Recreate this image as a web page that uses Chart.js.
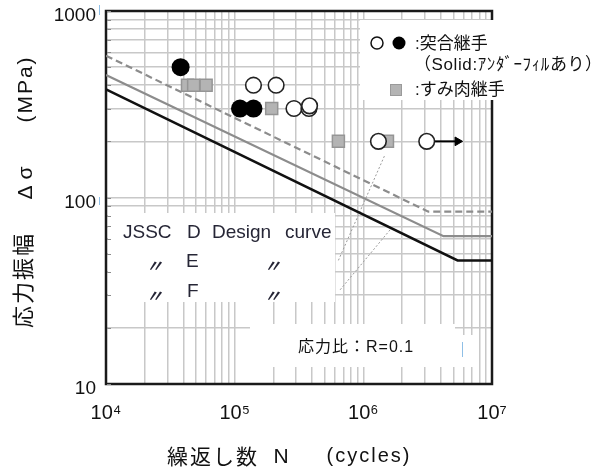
<!DOCTYPE html>
<html>
<head>
<meta charset="utf-8">
<script src="https://cdn.jsdelivr.net/npm/chart.js@4.4.1/dist/chart.umd.min.js"></script>
<style>
  html, body { margin: 0; padding: 0; background: #fff; }
</style>
</head>
<body>
<canvas id="sn" width="598" height="470"></canvas>
<script>
// Fatigue test results: stress range Δσ (MPa) against cycles to failure N
const buttOpenN  = [1.40e5, 2.10e5, 2.89e5, 3.78e5, 3.82e5, 1.31e6, 3.11e6];
const buttOpenS  = [400, 400, 300, 300, 310, 200, 200];
const buttSolidN = [3.8e4, 1.10e5, 1.40e5];
const buttSolidS = [500, 300, 300];
const filletN    = [4.3e4, 4.8e4, 6.0e4, 1.94e5, 6.4e5, 1.54e6];
const filletS    = [400, 400, 400, 300, 200, 200];
// run-out (not failed) specimen arrow
const runoutN    = [3.11e6, 5.4e6];
const runoutS    = [200, 200];

// JSSC design curves D, E, F (slope 1/3 with cut-off)
const curveD_N = [1e4, 3.2e6, 1e7], curveD_S = [576, 84, 84];
const curveE_N = [1e4, 4.2e6, 1e7], curveE_S = [454, 62, 62];
const curveF_N = [1e4, 5.4e6, 1e7], curveF_S = [380, 46, 46];

// faint dotted guide lines
const guideA_N = [6.4e5, 1.47e6], guideA_S = [46, 169];
const guideB_N = [6.6e5, 1.67e6], guideB_S = [32, 69];

// axis ticks
const xTickValues = [1e4, 1e5, 1e6, 1e7];
const xTickLabels = ['10⁴', '10⁵', '10⁶', '10⁷'];
const yTickValues = [10, 100, 1000];
const yTickLabels = ['10', '100', '1000'];

const pts = (xs, ys) => xs.map((x, i) => ({ x, y: ys[i] }));

function logGrid(min, max) {
  const out = [];
  for (let e = Math.round(Math.log10(min)); e <= Math.round(Math.log10(max)); e++) {
    for (let m = 1; m <= 9; m++) {
      const v = m * Math.pow(10, e);
      if (v >= min * 0.999 && v <= max * 1.001) out.push(v);
    }
  }
  return out;
}
function labelFrom(values, labels, v) {
  const i = values.findIndex(t => Math.abs(Math.log10(t) - Math.log10(v)) < 1e-6);
  return i >= 0 ? labels[i] : '';
}

const LATIN = "'Liberation Sans', Arial, 'Noto Sans CJK JP', sans-serif";
const JP = "'Liberation Sans', 'Noto Sans CJK JP', sans-serif";

const decor = {
  id: 'decor',
  beforeDatasetsDraw(chart) {
    const ctx = chart.ctx, a = chart.chartArea;
    ctx.save();
    // plot frame
    ctx.strokeStyle = '#1a1a1a';
    ctx.lineWidth = 2.5;
    ctx.strokeRect(a.left, a.top, a.right - a.left, a.bottom - a.top);
    // white label panels
    ctx.fillStyle = '#ffffff';
    ctx.fillRect(360, 20, 238, 80);
    ctx.fillRect(108, 213, 227, 89);
    ctx.fillRect(250, 324, 205, 43);
    ctx.fillRect(455, 335, 20, 32);
    // short inner ticks on the left axis
    const ys = chart.scales.y;
    ctx.strokeStyle = '#8a8a8a';
    ctx.lineWidth = 1;
    logGrid(10, 1000).forEach(v => {
      const py = Math.round(ys.getPixelForValue(v)) + 0.5;
      ctx.beginPath(); ctx.moveTo(a.left + 1, py); ctx.lineTo(a.left + 5, py); ctx.stroke();
    });
    ctx.restore();
  },
  afterDraw(chart) {
    const ctx = chart.ctx;
    ctx.save();
    ctx.fillStyle = '#111';
    ctx.textBaseline = 'alphabetic';

    // y axis title (rotated)
    const vtext = (txt, x, y, font, spacing) => {
      ctx.save();
      ctx.translate(x, y);
      ctx.rotate(-Math.PI / 2);
      ctx.font = font;
      ctx.letterSpacing = spacing || '0px';
      ctx.textAlign = 'center';
      ctx.fillText(txt, 0, 0);
      ctx.restore();
    };
    vtext('応力振幅', 31, 280, "22px 'Noto Sans CJK JP', sans-serif", '2px');
    vtext('Δ σ', 32, 183, '21px ' + LATIN);
    vtext('(MPa)', 32, 89, '21px ' + LATIN, '2px');

    // x axis title
    ctx.textAlign = 'center';
    ctx.font = "21px 'Noto Sans CJK JP', sans-serif";
    ctx.letterSpacing = '2px';
    ctx.fillText('繰返し数', 213, 464);
    ctx.letterSpacing = '0px';
    ctx.font = '21px ' + LATIN;
    ctx.fillText('N', 281, 463);
    ctx.font = '20px ' + LATIN;
    ctx.letterSpacing = '2px';
    ctx.fillText('(cycles)', 369, 462);
    ctx.letterSpacing = '0px';

    // symbol legend
    ctx.textAlign = 'left';
    ctx.lineWidth = 1.5;
    ctx.strokeStyle = '#111';
    ctx.fillStyle = '#fff';
    ctx.beginPath(); ctx.arc(377, 43, 6, 0, Math.PI * 2); ctx.fill(); ctx.stroke();
    ctx.fillStyle = '#000';
    ctx.beginPath(); ctx.arc(399, 43, 6.5, 0, Math.PI * 2); ctx.fill();
    ctx.fillStyle = '#b4b4b4';
    ctx.fillRect(390, 84, 12, 12);
    ctx.strokeStyle = '#9a9a9a';
    ctx.lineWidth = 1;
    ctx.strokeRect(390.5, 84.5, 11, 11);

    ctx.fillStyle = '#111';
    ctx.font = '17px ' + JP;
    ctx.fillText(':突合継手', 415, 49);
    ctx.font = '17px ' + JP;
    ctx.letterSpacing = '0.6px';
    ctx.fillText('（Solid:ｱﾝﾀﾞｰﾌｨﾙあり）', 414, 70);
    ctx.letterSpacing = '0px';
    ctx.font = '17px ' + JP;
    ctx.fillText(':すみ肉継手', 415, 95);

    // design curve labels
    ctx.fillStyle = '#262636';
    ctx.font = '19px ' + LATIN;
    ctx.fillText('JSSC', 123, 238);
    ctx.fillText('D', 187, 238);
    ctx.fillText('Design', 212, 238);
    ctx.fillText('curve', 285, 238);
    ctx.fillText('E', 186, 267);
    ctx.fillText('F', 187, 297);
    ctx.font = "italic bold 17px 'Noto Sans CJK JP', sans-serif";
    [[146, 272], [264, 272], [146, 302], [264, 302]].forEach(p => ctx.fillText('〃', p[0], p[1]));

    // stress ratio note
    ctx.fillStyle = '#111';
    ctx.font = '16px ' + JP;
    ctx.letterSpacing = '1px';
    ctx.fillText('応力比：R=0.1', 298, 352);
    ctx.letterSpacing = '0px';

    // thin cursor marks
    ctx.strokeStyle = '#8fbfe6';
    ctx.lineWidth = 1;
    [[99.5, 5, 15], [99.5, 197, 205], [462.5, 342, 357]].forEach(l => {
      ctx.beginPath(); ctx.moveTo(l[0], l[1]); ctx.lineTo(l[0], l[2]); ctx.stroke();
    });
    ctx.restore();
  }
};

new Chart(document.getElementById('sn'), {
  type: 'scatter',
  data: {
    datasets: [
      { label: 'D', data: pts(curveD_N, curveD_S), showLine: true, borderColor: '#8c8c8c',
        borderWidth: 2.2, borderDash: [7, 4], pointRadius: 0, order: 6 },
      { label: 'E', data: pts(curveE_N, curveE_S), showLine: true, borderColor: '#8c8c8c',
        borderWidth: 2.2, pointRadius: 0, order: 6 },
      { label: 'F', data: pts(curveF_N, curveF_S), showLine: true, borderColor: '#111',
        borderWidth: 2.5, pointRadius: 0, order: 6 },
      { label: 'guideA', data: pts(guideA_N, guideA_S), showLine: true, borderColor: '#9a9a9a',
        borderWidth: 1, borderDash: [2, 2], pointRadius: 0, order: 7 },
      { label: 'guideB', data: pts(guideB_N, guideB_S), showLine: true, borderColor: '#9a9a9a',
        borderWidth: 1, borderDash: [2, 2], pointRadius: 0, order: 7 },
      { label: 'runout', data: pts(runoutN, runoutS), showLine: true, borderColor: '#000',
        borderWidth: 2, pointRadius: [0, 5], pointStyle: 'triangle', rotation: 90,
        pointBackgroundColor: '#000', pointBorderColor: '#000', pointBorderWidth: 1, order: 5 },
      { label: 'すみ肉継手', data: pts(filletN, filletS), pointStyle: 'rect', pointRadius: 8.5,
        backgroundColor: '#b4b4b4', borderColor: '#959595', borderWidth: 1.5, order: 4 },
      { label: '突合継手', data: pts(buttOpenN, buttOpenS), pointStyle: 'circle', pointRadius: 7.8,
        backgroundColor: '#fff', borderColor: '#222', borderWidth: 1.6, order: 2 },
      { label: '突合継手 (Solid)', data: pts(buttSolidN, buttSolidS), pointStyle: 'circle', pointRadius: 9,
        backgroundColor: '#000', borderColor: '#000', borderWidth: 0, order: 1 }
    ]
  },
  options: {
    responsive: false,
    animation: false,
    devicePixelRatio: 1,
    layout: { padding: { top: 11, right: 106, bottom: 0, left: 0 } },
    plugins: { legend: { display: false }, tooltip: { enabled: false } },
    scales: {
      x: {
        type: 'logarithmic', min: 1e4, max: 1e7,
        afterBuildTicks: s => { s.ticks = logGrid(1e4, 1e7).map(v => ({ value: v })); },
        afterFit: s => { s.height = 86; s.paddingLeft = 0; s.paddingRight = 0; },
        grid: { color: '#c8c8c8', lineWidth: 1.5, drawTicks: false },
        border: { display: false },
        ticks: {
          autoSkip: false, maxRotation: 0, padding: 17, color: '#111',
          font: { family: LATIN, size: 20 },
          callback: v => labelFrom(xTickValues, xTickLabels, v)
        }
      },
      y: {
        type: 'logarithmic', min: 10, max: 1000,
        afterBuildTicks: s => { s.ticks = logGrid(10, 1000).map(v => ({ value: v })); },
        afterFit: s => { s.width = 106; s.paddingTop = 0; s.paddingBottom = 0; },
        grid: { color: '#c8c8c8', lineWidth: 1.5, drawTicks: false },
        border: { display: false },
        ticks: {
          autoSkip: false, padding: 10, labelOffset: 5, color: '#111',
          font: { family: LATIN, size: 19 },
          callback: v => labelFrom(yTickValues, yTickLabels, v)
        }
      }
    }
  },
  plugins: [decor]
});
</script>
</body>
</html>
